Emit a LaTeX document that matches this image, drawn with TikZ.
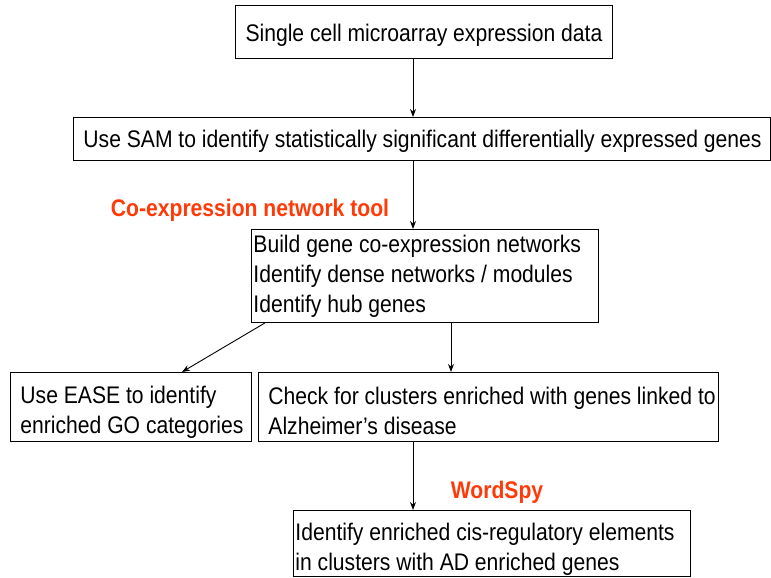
\documentclass[tikz,border=0pt]{standalone}
\usepackage{fontspec}
\setmainfont[FakeStretch=0.88]{Liberation Sans}
\usetikzlibrary{arrows.meta}
\definecolor{tool}{RGB}{255,58,8}
\newcommand{\topstrut}[1]{\rule{0pt}{#1}}
\begin{document}
\begin{tikzpicture}[x=1pt,y=-1pt,
  box/.style={draw, line width=0.9pt, anchor=north west, inner ysep=0pt, align=flush left,
    font=\fontsize{24pt}{30pt}\selectfont},
  lab/.style={text=tool, font=\fontsize{24pt}{30pt}\selectfont\bfseries, inner sep=0pt},
  arr/.style={line width=0.9pt, -{Stealth[length=8pt,width=6pt]}}]
\useasboundingbox (0,0) rectangle (771,578);
\coordinate (spineA) at (413,0);
\coordinate (spineB) at (451,0);

\node[box, minimum width=377pt, minimum height=53pt, align=center] (a) at (235,5)
  {\topstrut{24pt}Single cell microarray expression data};
\node[box, minimum width=697pt, minimum height=43pt, inner xsep=10pt, text width=677pt] (b) at (73,117)
  {\mbox{\topstrut{22pt}Use SAM to identify statistically significant differentially expressed genes}};
\node[box, minimum width=347pt, minimum height=93pt, inner xsep=2pt, text width=343pt] (c) at (251,229)
  {\mbox{Build gene co-expression networks}\\\mbox{Identify dense networks / modules}\\\mbox{Identify hub genes}};
\node[box, minimum width=241pt, minimum height=69pt, inner xsep=10pt, text width=221pt] (d) at (10,372)
  {\mbox{\topstrut{29pt}Use EASE to identify}\\\mbox{enriched GO categories}};
\node[box, minimum width=460pt, minimum height=69pt, inner xsep=10pt, text width=440pt] (e) at (258,372)
  {\mbox{\topstrut{26pt}Check for clusters enriched with genes linked to}\\\mbox{Alzheimer’s disease}};
\node[box, minimum width=397pt, minimum height=66pt, inner xsep=2pt, text width=393pt] (f) at (293,510)
  {\mbox{\topstrut{29pt}Identify enriched cis-regulatory elements}\\\mbox{in clusters with AD enriched genes}};

\node[lab] (l1) at (250,210) {Co-expression network tool};
\node[lab] (l2) at (497,492) {WordSpy};

\draw[arr] (a.south -| spineA) -- (b.north -| spineA);
\draw[arr] (b.south -| spineA) -- (c.north -| spineA);
\draw[arr] ([xshift=14pt]c.south west) -- ([xshift=172pt]d.north west);
\draw[arr] (c.south -| spineB) -- (e.north -| spineB);
\draw[arr] (e.south -| spineA) -- (f.north -| spineA);
\end{tikzpicture}
\end{document}
